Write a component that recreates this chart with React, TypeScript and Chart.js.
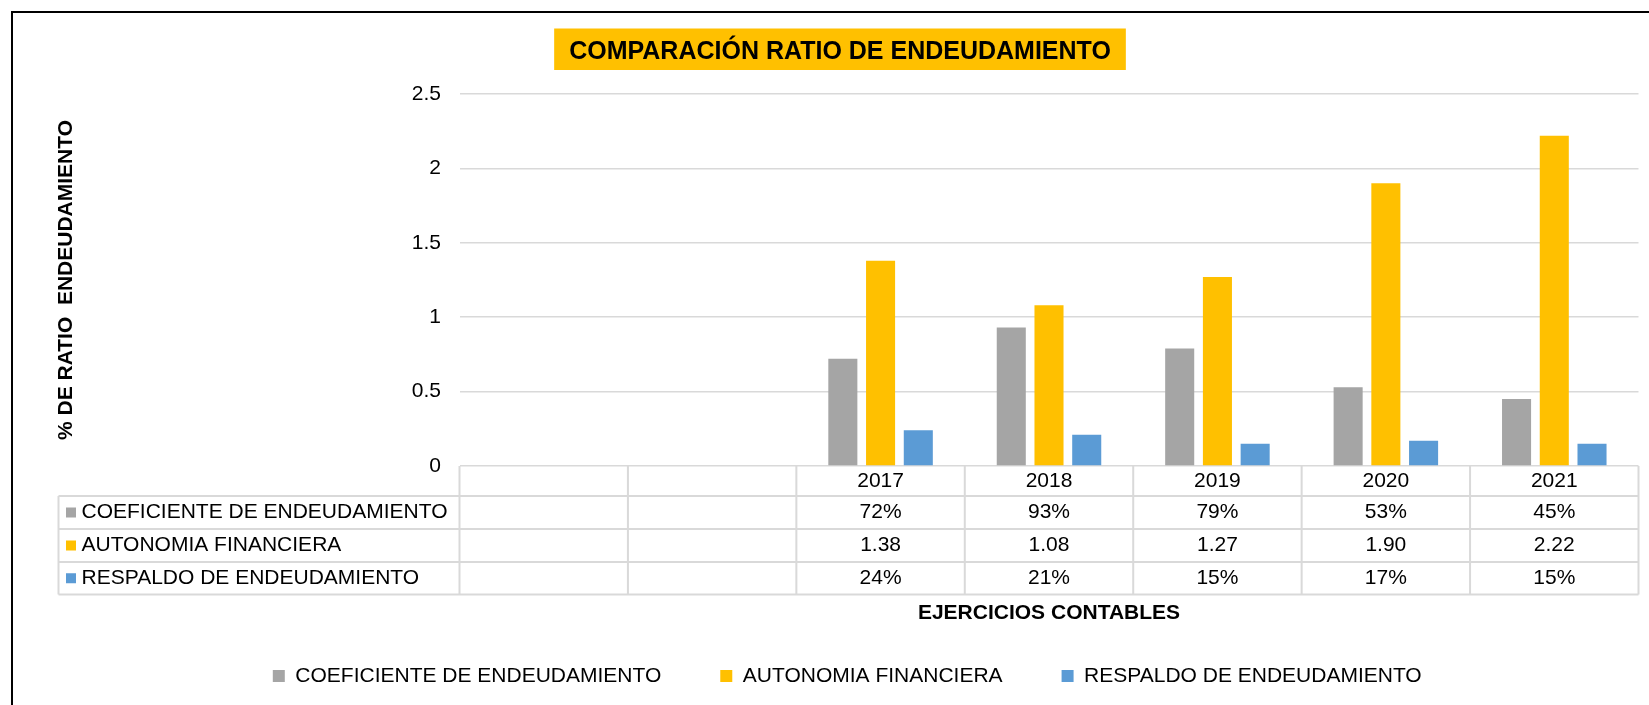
import React, { useEffect, useRef } from "react";
import { Chart, registerables } from "chart.js";

Chart.register(...registerables);

const FONT = "'Liberation Sans', Arial, Helvetica, sans-serif";

const chartTitle = "COMPARACIÓN RATIO DE ENDEUDAMIENTO";
const yAxisTitle = "% DE RATIO  ENDEUDAMIENTO";
const xAxisTitle = "EJERCICIOS CONTABLES";

const categories = ["", "", "2017", "2018", "2019", "2020", "2021"];
const seriesLabels = [
  "COEFICIENTE DE ENDEUDAMIENTO",
  "AUTONOMIA FINANCIERA",
  "RESPALDO DE ENDEUDAMIENTO",
];
const coeficienteValues = [null, null, 0.72, 0.93, 0.79, 0.53, 0.45];
const autonomiaValues = [null, null, 1.38, 1.08, 1.27, 1.9, 2.22];
const respaldoValues = [null, null, 0.24, 0.21, 0.15, 0.17, 0.15];
const seriesColors = ["#A5A5A5", "#FFC000", "#5B9BD5"];

const yMin = 0;
const yMax = 2.5;
const yStep = 0.5;

const pct = (v: number | null) => (v == null ? "" : Math.round(v * 100) + "%");
const fix2 = (v: number | null) => (v == null ? "" : v.toFixed(2));

const tableRows = [
  { label: seriesLabels[0], color: seriesColors[0], values: coeficienteValues, fmt: pct },
  { label: seriesLabels[1], color: seriesColors[1], values: autonomiaValues, fmt: fix2 },
  { label: seriesLabels[2], color: seriesColors[2], values: respaldoValues, fmt: pct },
];

const decorPlugin = {
  id: "excelDecor",
  beforeDraw(chart: any) {
    const ctx = chart.ctx;
    ctx.save();
    ctx.font = `bold 25px ${FONT}`;
    const tw = ctx.measureText(chartTitle).width;
    const cx = 840;
    ctx.fillStyle = "#FFC000";
    ctx.fillRect(cx - tw / 2 - 15, 28.5, tw + 30, 41.5);
    ctx.fillStyle = "#000";
    ctx.textAlign = "center";
    ctx.textBaseline = "alphabetic";
    ctx.fillText(chartTitle, cx, 59);
    ctx.restore();
  },
  afterDraw(chart: any) {
    const ctx = chart.ctx;
    const area = chart.chartArea;
    const xs = chart.scales.x;
    const centers = categories.map((_, i) => xs.getPixelForValue(i));
    const bounds = [area.left];
    for (let i = 0; i < centers.length - 1; i++) bounds.push((centers[i] + centers[i + 1]) / 2);
    bounds.push(area.right);

    const top = area.bottom;
    const rowTops = [top, top + 30, top + 63, top + 96, top + 128.5];
    const tableLeft = 58.5;

    ctx.save();
    ctx.strokeStyle = "#D9D9D9";
    ctx.lineWidth = 2;
    ctx.beginPath();
    for (let r = 1; r < rowTops.length; r++) {
      ctx.moveTo(tableLeft, rowTops[r]);
      ctx.lineTo(area.right, rowTops[r]);
    }
    bounds.forEach((b) => {
      ctx.moveTo(b, top);
      ctx.lineTo(b, rowTops[4]);
    });
    ctx.moveTo(tableLeft, rowTops[1]);
    ctx.lineTo(tableLeft, rowTops[4]);
    ctx.stroke();

    ctx.fillStyle = "#000";
    ctx.font = `21px ${FONT}`;
    ctx.textBaseline = "middle";
    ctx.textAlign = "center";
    const headerY = (rowTops[0] + rowTops[1]) / 2;
    categories.forEach((c, i) => {
      if (c) ctx.fillText(c, centers[i], headerY);
    });
    tableRows.forEach((row, r) => {
      const y = (rowTops[r + 1] + rowTops[r + 2]) / 2;
      ctx.fillStyle = row.color;
      ctx.fillRect(66, y - 5, 10, 10);
      ctx.fillStyle = "#000";
      ctx.textAlign = "left";
      ctx.fillText(row.label, 81.5, y);
      ctx.textAlign = "center";
      row.values.forEach((v, i) => {
        const t = row.fmt(v as any);
        if (t) ctx.fillText(t, centers[i], y);
      });
    });

    // outer frame
    ctx.strokeStyle = "#000";
    ctx.lineWidth = 2;
    ctx.beginPath();
    ctx.moveTo(12, 720);
    ctx.lineTo(12, 12);
    ctx.lineTo(1660, 12);
    ctx.stroke();
    ctx.restore();
  },
};

export default function App() {
  const canvasRef = useRef<HTMLCanvasElement | null>(null);

  useEffect(() => {
    if (!canvasRef.current) return;
    const chart = new Chart(canvasRef.current, {
      type: "bar",
      data: {
        labels: categories,
        datasets: [
          { label: seriesLabels[0], data: coeficienteValues as any, backgroundColor: seriesColors[0], borderWidth: 0 },
          { label: seriesLabels[1], data: autonomiaValues as any, backgroundColor: seriesColors[1], borderWidth: 0 },
          { label: seriesLabels[2], data: respaldoValues as any, backgroundColor: seriesColors[2], borderWidth: 0 },
        ],
      },
      options: {
        responsive: false,
        animation: false,
        devicePixelRatio: 1,
        events: [],
        layout: { padding: { left: 56, right: 10.5, top: 94, bottom: 8.5 } },
        datasets: {
          bar: { categoryPercentage: 0.672, barPercentage: 0.77 },
        },
        plugins: {
          title: { display: false },
          tooltip: { enabled: false },
          legend: {
            display: true,
            position: "bottom",
            labels: {
              font: { size: 21, family: FONT },
              color: "#000",
              boxWidth: 12,
              boxHeight: 12,
              padding: 59,
            },
          },
        },
        scales: {
          x: {
            grid: { display: false },
            border: { display: false },
            ticks: { display: false },
            title: {
              display: true,
              text: xAxisTitle,
              color: "#000",
              font: { size: 21, weight: "bold", family: FONT },
              padding: { top: 0, bottom: -19.6 },
            },
            afterFit: (s: any) => {
              s.height = 140.5;
            },
          },
          y: {
            min: yMin,
            max: yMax,
            grid: { color: "#D9D9D9", lineWidth: 1.5, drawTicks: false },
            border: { display: false },
            ticks: {
              stepSize: yStep,
              color: "#000",
              font: { size: 21, family: FONT },
              padding: 18.5,
              callback: (v: any) => String(Number(v)),
            },
            title: {
              display: true,
              text: yAxisTitle,
              color: "#000",
              font: { size: 21, weight: "bold", family: FONT },
              padding: { top: -2, bottom: 0 },
            },
            afterFit: (s: any) => {
              s.width = 403.5;
            },
          },
        },
      } as any,
      plugins: [decorPlugin],
    });
    return () => chart.destroy();
  }, []);

  return (
    <div style={{ position: "fixed", left: 0, top: 0, width: 1649, height: 705, overflow: "hidden", background: "#fff" }}>
      <canvas ref={canvasRef} width={1649} height={705} style={{ display: "block" }} />
    </div>
  );
}
